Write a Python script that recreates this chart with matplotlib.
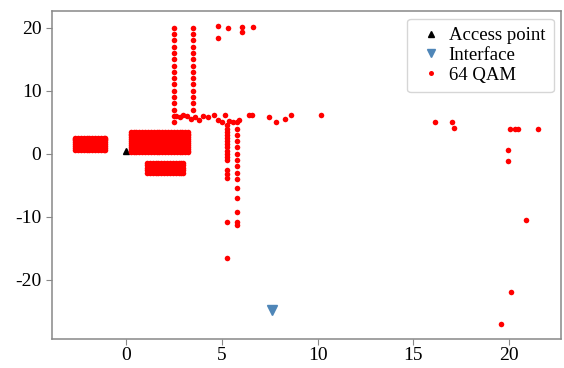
import numpy as np
import matplotlib
matplotlib.use('Agg')
import matplotlib.pyplot as plt

plt.rcParams['font.family'] = ['Liberation Serif', 'DejaVu Serif']
plt.rcParams['axes.unicode_minus'] = False

# access point and interface positions
ap_x, ap_y = [0.0], [0.4]
if_x, if_y = [7.6], [-24.9]

# dense blocks of 64 QAM points (grid positions)
blockA_x = [-2.65, -2.5, -2.35, -2.2, -2.05, -1.9, -1.75, -1.6, -1.45, -1.3, -1.15, -1.08]
blockA_y = [0.6, 0.9, 1.2, 1.5, 1.8, 2.1, 2.4, 2.5]
blockB_x = [0.25, 0.4, 0.55, 0.7, 0.85, 1.0, 1.15, 1.3, 1.45, 1.6, 1.75, 1.9,
            2.05, 2.2, 2.35, 2.5, 2.65, 2.8, 2.95, 3.1, 3.25]
blockB_y = [0.2, 0.5, 0.8, 1.1, 1.4, 1.7, 2.0, 2.3, 2.6, 2.9, 3.2, 3.4]
blockC_x = [1.1, 1.25, 1.4, 1.55, 1.7, 1.85, 2.0, 2.15, 2.3, 2.45, 2.6, 2.75, 2.9, 3.0]
blockC_y = [-1.4, -1.8, -2.2, -2.6, -3.0]

# vertical columns
col1_x = 2.5
col1_y = [20, 19, 18, 17, 16, 15, 14, 13, 12, 11, 10, 9, 8, 7, 6, 5]
col2_x = 3.5
col2_y = [20, 19, 18, 17, 16, 15, 14, 13, 12, 11, 10, 9, 8, 7]
col3_x = 5.3
col3_y = [4.5, 4.0, 3.5, 3.0, 2.5, 2.0, 1.5, 1.0, 0.5, 0.0, -0.5, -1.0,
          -2.6, -3.2, -3.9, -10.9, -16.5]
col4_x = 5.8
col4_y = [5.0, 4.0, 3.0, 2.0, 1.0, 0.0, -1.0, -2.0, -3.0, -4.0, -5.5,
          -7.1, -9.2, -10.8, -11.4]

# scattered points
pts_x = [2.6, 2.8, 3.0, 3.2, 3.4, 3.6, 3.8, 4.0, 4.3, 4.6, 4.8, 5.0, 5.15,
         5.4, 5.6, 5.9, 6.45, 6.6, 7.45, 7.85, 8.3, 8.6, 10.2,
         4.8, 4.8, 5.35, 6.05, 6.05, 6.65,
         16.1, 17.0, 17.1, 20.05, 20.3, 20.45, 21.5, 19.95, 19.95, 20.85,
         20.1, 19.55]
pts_y = [6.0, 5.8, 6.2, 6.0, 5.5, 5.9, 5.3, 6.0, 5.9, 6.1, 5.4, 5.1, 6.2,
         5.2, 5.0, 5.3, 6.1, 6.2, 5.9, 5.1, 5.5, 6.1, 6.1,
         20.3, 18.4, 19.9, 20.2, 19.3, 20.1,
         5.0, 5.1, 4.1, 4.0, 4.0, 4.0, 4.0, 0.6, -1.1, -10.6,
         -22.0, -27.0]

qx, qy = [], []
for bx, by in [(blockA_x, blockA_y), (blockB_x, blockB_y), (blockC_x, blockC_y)]:
    gx, gy = np.meshgrid(bx, by)
    qx += list(gx.ravel())
    qy += list(gy.ravel())
for cx, cy in [(col1_x, col1_y), (col2_x, col2_y), (col3_x, col3_y), (col4_x, col4_y)]:
    qx += [cx] * len(cy)
    qy += cy
qx += pts_x
qy += pts_y

fig = plt.figure(figsize=(5.64, 3.68), dpi=100)
ax = fig.add_axes([0.092, 0.08, 0.903, 0.89])

ax.plot(ap_x, ap_y, '^', color='black', markersize=5, linestyle='none', label='Access point')
ax.plot(if_x, if_y, 'v', color='#4f86b8', markersize=7, linestyle='none', label='Interface')
ax.plot(qx, qy, 'o', color='red', markersize=4, markeredgewidth=0, linestyle='none', label='64 QAM')

for s in ax.spines.values():
    s.set_color('#888888')
    s.set_linewidth(1.1)
ax.tick_params(colors='#888888', labelcolor='black', labelsize=14, length=4)
ax.tick_params(axis='x', pad=2)
ax.set_xticks([0, 5, 10, 15, 20])
ax.set_yticks([-20, -10, 0, 10, 20])

leg = ax.legend(loc='upper right', fontsize=13.5, handletextpad=0.15, handlelength=1.6,
                borderpad=0.45, labelspacing=0.15, markerscale=0.9, borderaxespad=0.4)
leg.get_frame().set_edgecolor('#cccccc')

plt.savefig('out.png', dpi=100)
